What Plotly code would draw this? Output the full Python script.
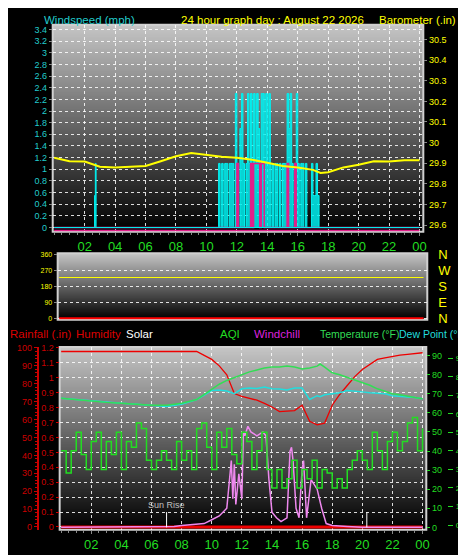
import plotly.graph_objects as go
import zlib, struct, base64

W, H = 466, 555
FONT = "Liberation Sans"

# ---------------- data ----------------
baro_h = [0, 1, 2, 3, 4, 5, 6, 7, 8, 9, 10, 11, 12, 13, 14, 15, 16, 17, 17.5, 18, 19, 20, 21, 22, 23, 24]
baro = [29.927, 29.91, 29.908, 29.883, 29.88, 29.883, 29.887, 29.91, 29.934, 29.95, 29.94, 29.932, 29.927,
        29.917, 29.903, 29.887, 29.88, 29.868, 29.853, 29.857, 29.88, 29.893, 29.91, 29.908, 29.915, 29.915]

wind_h = [0, 2.65, 2.7, 2.75, 10.8, 10.9, 11.0, 11.1, 11.2, 11.3, 11.4, 11.5, 11.6, 11.7, 11.8, 11.9, 12.0,
          12.1, 12.2, 12.3, 12.4, 12.5, 12.6, 12.7, 12.8, 12.9, 13.0, 13.1, 13.2, 13.3, 13.4, 13.5, 13.6,
          13.7, 13.8, 13.9, 14.0, 14.1, 14.2, 14.3, 14.4, 14.5, 14.6, 14.7, 14.8, 14.9, 15.0, 15.1, 15.2,
          15.3, 15.4, 15.5, 15.6, 15.7, 15.8, 15.9, 16.0, 16.1, 16.2, 16.3, 16.4, 16.5, 16.6, 16.7, 16.8,
          16.9, 17.0, 17.1, 17.2, 17.3, 17.4, 17.6, 24]
wind = [0, 0.55, 1.1, 0, 1.1, 0, 1.1, 0, 1.1, 1.1, 0, 1.1, 1.1, 1.1, 0, 2.3, 1.1,
        0, 1.7, 2.3, 1.1, 0, 1.1, 2.3, 1.1, 2.3, 0, 2.3, 1.1, 2.3, 1.7, 1.1, 2.3,
        2.3, 1.1, 2.3, 1.1, 2.3, 0, 1.1, 0, 1.1, 1.1, 0, 1.1, 0, 1.1, 1.1, 1.1,
        2.3, 1.7, 2.3, 1.1, 0, 1.1, 2.3, 1.1, 0, 1.1, 1.1, 0, 1.1, 0, 0, 0,
        1.1, 0.55, 0.55, 1.1, 0.55, 0, 0, 0]
gust_h = [0, 12.0, 12.1, 12.9, 13.0, 13.1, 13.2, 13.3, 13.4, 13.5, 13.6, 13.7, 13.8, 15.3, 15.4, 15.8, 15.9, 24]
gust = [0, 1.1, 0, 1.1, 0, 1.1, 1.1, 1.1, 1.1, 0, 1.1, 1.1, 0, 1.1, 0, 1.1, 0, 0]

dir_h = [0, 24]
wind_dir = [229, 229]

t_h = [0, 1, 2, 3, 4, 5, 6, 7, 8, 9, 10, 10.5, 11, 11.5, 12, 12.5, 13, 13.5, 14, 14.5, 15, 15.5, 16, 16.5,
       17, 17.2, 17.5, 18, 18.5, 19, 19.5, 20, 20.5, 21, 21.5, 22, 22.5, 23, 23.5, 24]
temp = [67.7, 67, 66, 65.5, 65, 64.5, 64, 64, 65, 67, 72.6, 75, 77, 78.5, 80, 81.5, 82.5, 83.5, 84, 84, 84.5,
        84, 83, 83.5, 84.5, 85.6, 84, 81, 80, 78.6, 77.5, 76, 74.5, 72.6, 71.5, 70, 69.5, 68.6, 68, 67.4]
dew = [67.7, 67, 66.5, 65.5, 65, 64.5, 63.9, 63.4, 64.5, 67, 71.7, 72, 71.5, 70, 72.6, 73, 72.8, 73.5, 72.6,
       72.5, 72, 73, 73, 67, 69, 68.5, 69.5, 70, 70.5, 71.7, 71.5, 71, 70.5, 70.2, 70, 69, 68.8, 68.3, 68, 67.4]
hum = [98, 98, 98, 98, 98, 98, 98, 98, 98, 98, 93.6, 90, 85, 74.5, 73, 71.7, 70.8, 69, 67, 64.4, 64.5,
       65, 68, 59, 57, 57.5, 58, 68, 74, 79, 84, 88, 91, 93.6, 94.5, 95.4, 96, 96.4, 97, 97.3]

aqi_h = [i / 3 for i in range(73)]
aqi = [40, 28, 40, 50, 38, 30, 45, 50, 30, 45, 38, 50, 30, 45, 42, 55, 52, 35, 30, 35, 40, 35, 30, 45,
       35, 40, 30, 52, 55, 42, 30, 50, 42, 52, 38, 33, 50, 45, 30, 40, 50, 30, 20, 30, 20, 25, 35, 20,
       30, 25, 35, 20, 30, 28, 20, 25, 20, 30, 35, 40, 35, 30, 50, 40, 30, 45, 50, 40, 45, 55, 58, 40, 52]

sol_h = [0, 7.5, 8, 9, 9.5, 10, 10.5, 11, 11.2, 11.3, 11.4, 11.5, 11.6, 11.8, 12, 12.1, 12.2, 12.4, 12.6,
         13, 13.4, 13.6, 13.8, 14, 14.3, 14.6, 15, 15.2, 15.3, 15.4, 15.6, 15.8, 16, 16.1, 16.3, 16.6, 17,
         17.3, 17.6, 18, 19, 20, 24]
solar = [0, 0.5, 1, 1.5, 2, 4, 6, 10, 25, 35, 15, 33, 12, 28, 15, 50, 48, 53, 50,
         48, 50, 48, 25, 8, 5, 3, 5, 40, 42, 35, 10, 5, 30, 35, 5, 25, 20,
         10, 2, 1, 0.5, 0, 0]

rain_h = [0, 24]
rain = [0, 0]
sun_events = [7.0, 20.3]
sun_labels = ["Sun Rise", ""]

compass_vals = [0, 90, 180, 270, 360]
compass_text = ["N", "E", "S", "W", "N"]

tick_hours = [2, 4, 6, 8, 10, 12, 14, 16, 18, 20, 22, 24]
tick_text = ["02", "04", "06", "08", "10", "12", "14", "16", "18", "20", "22", "00"]

# ---------------- helpers ----------------
def px(x): return x / W
def py(y): return 1 - y / H

def gradient_png(n=256):
    raw = b""
    for i in range(n):
        g = int(198 * (1 - i / (n - 1)))
        raw += b"\x00" + bytes([g, g, g])
    def chunk(t, d):
        c = struct.pack(">I", len(d)) + t + d
        return c + struct.pack(">I", zlib.crc32(t + d) & 0xffffffff)
    png = b"\x89PNG\r\n\x1a\n" + chunk(b"IHDR", struct.pack(">IIBBBBB", 1, n, 8, 2, 0, 0, 0)) \
        + chunk(b"IDAT", zlib.compress(raw)) + chunk(b"IEND", b"")
    return "data:image/png;base64," + base64.b64encode(png).decode()

GRAD = gradient_png()
fig = go.Figure()

def gradient(x0, x1, y0, y1):
    fig.add_layout_image(source=GRAD, xref="paper", yref="paper", x=px(x0), y=py(y0),
                         sizex=px(x1) - px(x0), sizey=py(y0) - py(y1), sizing="stretch",
                         xanchor="left", yanchor="top", layer="below")
    fig.add_shape(type="rect", xref="paper", yref="paper", layer="below",
                  x0=px(x0), x1=px(x1), y0=py(y1), y1=py(y0), line=dict(color="#d0d0d0", width=2))

gradient(45, 418, 10, 222)
gradient(50, 422, 244, 312)
gradient(52, 421, 340, 527)

tf = dict(family=FONT, size=9)
grid = dict(showgrid=True, gridcolor="rgba(255,255,255,0.85)", griddash="dot", gridwidth=1)

# ---- top panel ----
fig.add_trace(go.Scatter(x=wind_h, y=wind, mode="lines", line=dict(color="#00f0f0", width=1, shape="hv"),
                         fill="tozeroy", fillcolor="rgba(0,240,240,0.85)", xaxis="x", yaxis="y"))
fig.add_trace(go.Scatter(x=gust_h, y=gust, mode="lines", line=dict(color="#e0208a", width=1.5, shape="hv"),
                         xaxis="x", yaxis="y"))
fig.add_trace(go.Scatter(x=[0, 24], y=[0, 0], mode="lines", line=dict(color="#00f0f0", width=1),
                         xaxis="x", yaxis="y"))
fig.add_trace(go.Scatter(x=[0, 24], y=[-0.05, -0.05], mode="lines", line=dict(color="#e0208a", width=1.5),
                         xaxis="x", yaxis="y"))
fig.add_trace(go.Scatter(x=baro_h, y=baro, mode="lines", line=dict(color="#ffff00", width=2),
                         xaxis="x", yaxis="y2"))

# ---- middle panel ----
fig.add_trace(go.Scatter(x=dir_h, y=wind_dir, mode="lines", line=dict(color="#ffff00", width=1),
                         xaxis="x2", yaxis="y3"))
fig.add_trace(go.Scatter(x=[0, 24], y=[0, 0], mode="lines", line=dict(color="#ff0000", width=2),
                         xaxis="x2", yaxis="y3"))
fig.add_trace(go.Scatter(x=dir_h, y=wind_dir, mode="lines", line=dict(width=0), opacity=0,
                         xaxis="x2", yaxis="y8"))

# ---- bottom panel ----
fig.add_trace(go.Scatter(x=aqi_h, y=aqi, mode="lines", line=dict(color="#22dd22", width=1.5, shape="hv"),
                         xaxis="x3", yaxis="y7"))
fig.add_trace(go.Scatter(x=sol_h, y=solar, mode="lines", line=dict(color="#ee88ee", width=1.5),
                         xaxis="x3", yaxis="y6"))
fig.add_trace(go.Scatter(x=t_h, y=dew, mode="lines", line=dict(color="#22dddd", width=1.5),
                         xaxis="x3", yaxis="y6"))
fig.add_trace(go.Scatter(x=t_h, y=temp, mode="lines", line=dict(color="#33dd55", width=1.5),
                         xaxis="x3", yaxis="y6"))
fig.add_trace(go.Scatter(x=t_h, y=hum, mode="lines", line=dict(color="#ee0000", width=1.3),
                         xaxis="x3", yaxis="y4"))
fig.add_trace(go.Scatter(x=rain_h, y=rain, mode="lines", line=dict(color="#ee0000", width=3),
                         xaxis="x3", yaxis="y5"))
for s, lab in zip(sun_events, sun_labels):
    fig.add_trace(go.Scatter(x=[s, s], y=[0, 8], mode="lines", line=dict(color="white", width=1),
                             xaxis="x3", yaxis="y6"))
    if lab:
        fig.add_annotation(x=s, y=8, xref="x3", yref="y6", text=lab, showarrow=False, yanchor="bottom",
                           font=dict(family=FONT, size=9, color="#c0c0c0"))

xcommon = dict(tickvals=tick_hours, ticktext=tick_text, ticks="outside", ticklen=3, tickcolor="#888",
               tickfont=dict(family=FONT, size=13, color="#22dd22"), zeroline=False, **grid,
               minor=dict(dtick=0.5, ticks="outside", ticklen=2, tickcolor="#888"))

fig.update_layout(
    width=W, height=H, margin=dict(l=0, r=0, t=0, b=0), showlegend=False,
    paper_bgcolor="black", plot_bgcolor="rgba(0,0,0,0)",
    xaxis=dict(domain=[px(45), px(418)], range=[-0.1, 24.25], anchor="y", **xcommon),
    yaxis=dict(domain=[py(222), py(10)], range=[-0.073, 3.48], anchor="x", dtick=0.2,
               tickfont=dict(tf, color="#22cccc"), ticks="outside", ticklen=3, tickcolor="#888",
               zeroline=False, **grid),
    yaxis2=dict(overlaying="y", side="right", anchor="x", range=[29.568, 30.571], dtick=0.1, showgrid=False,
                tickfont=dict(tf, color="#ffff00"), ticks="outside", ticklen=3, tickcolor="#888", zeroline=False),
    xaxis2=dict(domain=[px(50), px(422)], range=[-0.1, 24.25], anchor="y3", showticklabels=False,
                showgrid=False, zeroline=False),
    yaxis3=dict(domain=[py(312), py(244)], range=[-8, 365], tickvals=compass_vals, anchor="x2",
                tickfont=dict(family=FONT, size=7, color="#ffff00"), ticks="outside", ticklen=3, tickcolor="#888",
                zeroline=False, **grid),
    yaxis8=dict(overlaying="y3", side="right", anchor="x2", range=[-8, 365], tickvals=compass_vals,
                ticktext=compass_text, showgrid=False, zeroline=False,
                tickfont=dict(family=FONT, size=13, color="#ffff00"), ticklabelstandoff=10),
    xaxis3=dict(domain=[px(52), px(421)], range=[-0.1, 24.25], anchor="y5", **xcommon),
    yaxis4=dict(overlaying="y5", anchor="free", position=px(30), side="left", range=[-1.5, 100.5], dtick=10,
                showgrid=False, zeroline=False, showline=True, linecolor="#cc0000", linewidth=2,
                tickfont=dict(tf, color="#cc0000"), ticks="outside", ticklen=3, tickcolor="#cc0000",
                minor=dict(dtick=2, ticks="outside", ticklen=2, tickcolor="#cc0000")),
    yaxis5=dict(domain=[py(527), py(340)], range=[-0.018, 1.206], dtick=0.1, anchor="x3",
                tickfont=dict(tf, color="#cc0000"), ticks="outside", ticklen=3, tickcolor="#cc0000",
                zeroline=False, **grid),
    yaxis6=dict(overlaying="y5", side="right", anchor="x3", range=[-1.2, 94.5], dtick=10, showgrid=False,
                tickfont=dict(tf, color="#22dd22"), ticks="outside", ticklen=3, tickcolor="#22dd22", zeroline=False),
    yaxis7=dict(overlaying="y5", side="right", anchor="free", position=px(442), range=[-2.5, 96], dtick=10,
                showgrid=False, zeroline=False, tickfont=dict(family=FONT, size=8, color="#22dd22"),
                ticks="outside", ticklen=5, tickcolor="#22dd22", ticklabelstandoff=1),
)

def label(x, y, text, color, size=11.5):
    fig.add_annotation(x=px(x), y=py(y), xref="paper", yref="paper", text=text, showarrow=False,
                       xanchor="left", yanchor="middle", font=dict(family=FONT, size=size, color=color))

label(34, 5, "Windspeed (mph)", "#22cccc", 11.5)
label(172, 5, "24 hour graph day : August 22 2026", "#ffff00", 11.5)
label(371, 5, "Barometer (.in)", "#ffff00", 11.5)
label(0, 327, "Rainfall (.in)", "#dd0000")
label(66, 327, "Humidity", "#dd0000")
label(117, 327, "Solar", "#ffffff")
label(211, 327, "AQI", "#22dd22")
label(246, 327, "Windchill", "#dd22dd")
label(312, 327, "Temperature (°F)", "#33dd55", 10.5)
label(392, 327, "Dew Point (°F)", "#22dddd", 10.5)

fig.write_html("out.html")
